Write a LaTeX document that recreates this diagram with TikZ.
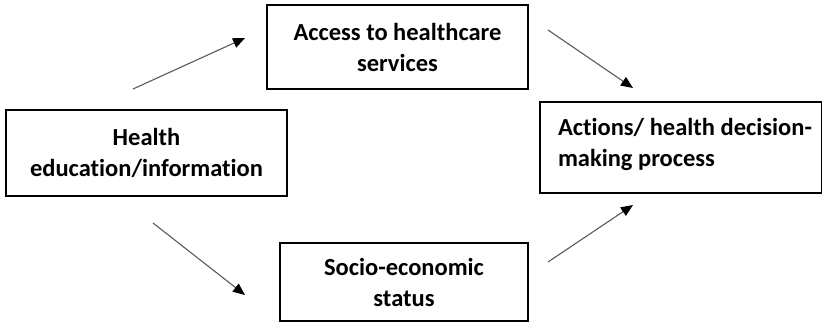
\documentclass[tikz,border=0pt]{standalone}
\usepackage{fontspec}
\setmainfont{Carlito}[Ligatures=NoCommon]
\usetikzlibrary{arrows.meta}
\begin{document}
\begin{tikzpicture}[x=1pt,y=-1pt,
  box/.style={draw=black,line width=2pt,inner sep=0pt,align=center,
    font=\bfseries\fontsize{24.5}{31}\selectfont},
  link/.style={draw=black!65,line width=1.1pt,
    -{Triangle[length=12pt,width=10pt,fill=black,color=black]}}]
\useasboundingbox (0,0) rectangle (822,322);
% factor boxes
\node[box,minimum width=281pt,minimum height=86pt] (edu) at (146.5,153) {Health\\education/information};
\node[box,minimum width=261pt,minimum height=84pt] (acc) at (397.5,47) {Access to healthcare\\services};
\node[box,minimum width=248pt,minimum height=78pt] (ses) at (404,282) {Socio-economic\\status};
\node[box,align=flush left,text width=246pt,inner xsep=18pt,minimum height=91pt,anchor=west] (act) at (539,147.5)
  {\mbox{Actions/ health decision-}\\making process\rule[-10pt]{0pt}{10pt}};
% arrow end points
\coordinate (e1) at (133,89);  \coordinate (a1) at (245,38);
\coordinate (e2) at (153,223); \coordinate (s1) at (245,295);
\coordinate (a2) at (548,30);  \coordinate (t1) at (633,88);
\coordinate (s2) at (548,262); \coordinate (t2) at (633,205);
\draw[link] (e1) -- (a1);
\draw[link] (e2) -- (s1);
\draw[link] (a2) -- (t1);
\draw[link] (s2) -- (t2);
\end{tikzpicture}
\end{document}
